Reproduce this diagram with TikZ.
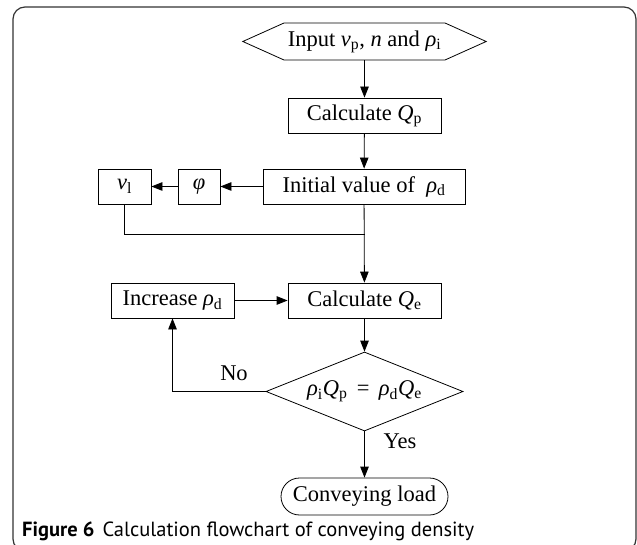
\documentclass[tikz,border=0pt]{standalone}
\usepackage{fontspec}
\setmainfont{Liberation Serif}
\newfontfamily\capfont{PT Sans}
\usetikzlibrary{arrows.meta,shapes.geometric,shapes.misc}
\newcommand\sbs[1]{\textsubscript{#1}}
\newcommand\vr[1]{\textit{#1}}
\begin{document}
\begin{tikzpicture}[x=1pt,y=-1pt,
  fsz/.style={font=\fontsize{22.5}{26}\selectfont},
  box/.style={draw, line width=0.8pt, minimum height=35pt, inner sep=0pt, fsz},
  lbl/.style={inner sep=0pt, fsz},
  arr/.style={-{Triangle[length=11pt,width=8.5pt]}, line width=0.8pt},
  ln/.style={line width=0.8pt}]
\useasboundingbox (0,0) rectangle (637,545);
\begin{scope}
\clip (0,0) rectangle (637,545);
\draw[line width=1.2pt, draw=black!80, rounded corners=12pt] (13,7) rectangle (636,551);
\end{scope}

% input hexagon
\node[lbl, minimum width=243pt, minimum height=37pt] (in) at (364.5,41.5)
  {Input \vr{v}\sbs{p}, \vr{n} and \vr{ρ}\sbs{i}};
\draw[ln] (in.west) -- (284,23) -- (445,23) -- (in.east) -- (445,60) -- (284,60) -- cycle;

\node[box, minimum width=153pt] (cqp) at (364.5,115.5) {Calculate \vr{Q}\sbs{p}};
\node[box, minimum width=202pt] (init) at (364,186.5) {Initial value of \ \vr{ρ}\sbs{d}};
\node[box, minimum width=42pt] (phi) at (199,186.5) {\vr{φ}};
\node[box, minimum width=53pt] (vl) at (124.5,186.5) {\vr{v}\sbs{l}};
\coordinate (m) at (364.5,234);

\node[box, minimum width=153pt] (cqe) at (364.5,300.5) {Calculate \vr{Q}\sbs{e}};
\node[box, minimum width=123pt] (inc) at (172.5,300.5) {Increase \vr{ρ}\sbs{d}};

\node[draw, diamond, line width=0.8pt, minimum width=197pt, minimum height=79pt, inner sep=0pt] (dec) at (364.5,391.5) {};
\node[lbl] (dectxt) at (364.5,391.5) {\vr{ρ}\sbs{i}\vr{Q}\sbs{p} \,=\, \vr{ρ}\sbs{d}\vr{Q}\sbs{e}};

\node[draw, rounded rectangle, line width=0.8pt, minimum width=167pt, minimum height=37pt, inner sep=0pt, fsz] (load) at (364.5,496.5) {Conveying load};

\node[lbl] (no) at (234,373) {No};
\node[lbl] (yes) at (400,441.5) {Yes};

\draw[arr] (in) -- (cqp);
\draw[arr] (cqp) -- (init);
\draw[arr] (init) -- (phi);
\draw[arr] (phi) -- (vl);
\draw[arr] (init) -- (cqe);
\draw[ln] (vl.south) |- (m);
\draw[arr] (inc) -- (cqe);
\draw[arr] (cqe) -- (dec);
\draw[arr] (dec.west) -| (inc.south);
\draw[arr] (dec.south) -- (load.north);

\node[anchor=west, inner sep=0pt, font=\capfont\fontsize{20.5}{23}\selectfont] (cap) at (22,531.5)
  {\textbf{Figure 6}\hspace{8pt}Calculation flowchart of conveying density};
\end{tikzpicture}
\end{document}
